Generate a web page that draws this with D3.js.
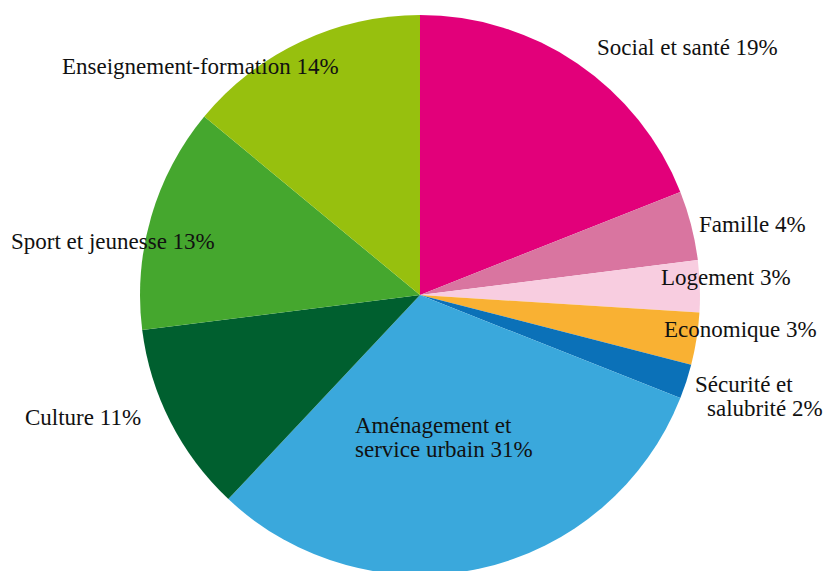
<!DOCTYPE html>
<html>
<head>
<meta charset="utf-8">
<script src="https://cdn.jsdelivr.net/npm/d3@7"></script>
<style>
	body { margin: 0; background: #fff; }
</style>
</head>
<body>
<div id="chart"></div>
<script>
// budget shares, clockwise from 12 o'clock
var categories = ["Social et santé", "Famille", "Logement", "Economique", "Sécurité et salubrité",
	"Aménagement et service urbain", "Culture", "Sport et jeunesse", "Enseignement-formation"];
var shares = [19, 4, 3, 3, 2, 31, 11, 13, 14];
var labelLines = [
	["Social et santé 19%"],
	["Famille 4%"],
	["Logement 3%"],
	["Economique 3%"],
	["Sécurité et", "salubrité 2%"],
	["Aménagement et", "service urbain 31%"],
	["Culture 11%"],
	["Sport et jeunesse 13%"],
	["Enseignement-formation 14%"]
];
var colors = ["#e2007a", "#d975a0", "#f8cde0", "#f9b133", "#0b71b8",
	"#3aa8dc", "#005f2f", "#45a72e", "#97c00e"];

// hand placed label anchors (left x, first baseline) and indent of 2nd line
var labelPos = [[597, 55, 0], [699, 232, 0], [661, 285, 0], [664, 337, 0], [695, 392, 12],
	[355, 433, 0], [25, 425, 0], [11, 249, 0], [62, 74, 0]];

var svgWidth = 827,
	svgHeight = 571,
	cx = 420,
	cy = 295,
	radius = 280,
	lineH = 24;

var svg = d3.select("#chart").append("svg")
	.attr("width", svgWidth)
	.attr("height", svgHeight);

var pie = d3.pie().sort(null).value(function (d) { return d; });
var arc = d3.arc().innerRadius(0).outerRadius(radius);

var g = svg.append("g").attr("transform", "translate(" + cx + "," + cy + ")");

g.selectAll("path")
	.data(pie(shares))
	.enter().append("path")
	.attr("d", arc)
	.attr("fill", function (d, i) { return colors[i]; });

var labels = svg.append("g").selectAll("text")
	.data(categories)
	.enter().append("text")
	.style("font-family", "'Liberation Serif', Times, serif")
	.style("font-size", "23px")
	.style("fill", "#111")
	.attr("x", function (d, i) { return labelPos[i][0]; })
	.attr("y", function (d, i) { return labelPos[i][1]; });

labels.each(function (d, i) {
	var t = d3.select(this);
	labelLines[i].forEach(function (line, j) {
		t.append("tspan")
			.attr("x", labelPos[i][0] + (j > 0 ? labelPos[i][2] : 0))
			.attr("y", labelPos[i][1] + j * lineH)
			.text(line);
	});
});
</script>
</body>
</html>
